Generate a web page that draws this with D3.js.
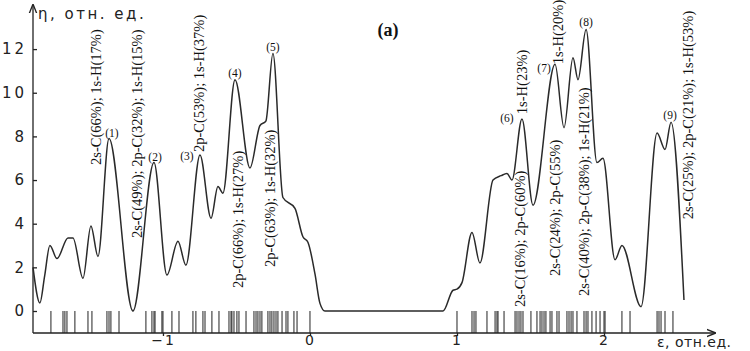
<!DOCTYPE html>
<html><head><meta charset="utf-8">
<script src="https://cdn.jsdelivr.net/npm/d3@7"></script>
<style>
html,body{margin:0;padding:0;background:#fff;}
svg{display:block;}
</style></head>
<body><svg id="chart" width="750" height="351"></svg>
<script>
// ---- data ----
const curveE   = [-1.884,-1.837,-1.805,-1.769,-1.721,-1.646,-1.612,-1.544,-1.490,-1.442,-1.367,-1.204,-1.061,-0.973,-0.898,-0.844,-0.748,-0.673,-0.626,-0.592,-0.510,-0.408,-0.340,-0.300,-0.252,-0.184,-0.102,-0.048,-0.014,0.034,0.068,0.102,0.905,0.973,1.000,1.034,1.102,1.156,1.245,1.300,1.340,1.374,1.442,1.517,1.667,1.728,1.789,1.823,1.878,1.952,1.993,2.075,2.122,2.252,2.361,2.415,2.456,2.544];
const curveEta = [2.0,0.37,1.6,3.0,2.4,3.35,3.35,1.5,3.9,2.5,7.9,0.0,6.8,1.65,3.2,2.1,7.15,4.25,5.7,5.4,10.6,6.55,8.5,8.7,11.8,5.2,4.7,3.4,3.15,1.7,0.35,0.0,0.0,0.95,1.0,1.3,3.6,2.2,6.0,6.2,6.3,6.0,8.8,4.85,11.3,8.4,11.6,10.6,12.9,6.8,7.0,2.35,3.0,0.2,8.15,7.4,8.65,0.5];

const stickE = [-1.762,-1.680,-1.667,-1.653,-1.599,-1.510,-1.483,-1.381,-1.367,-1.354,-1.299,-1.116,-1.075,-1.061,-1.054,-1.007,-0.939,-0.891,-0.796,-0.776,-0.728,-0.714,-0.667,-0.619,-0.551,-0.537,-0.531,-0.517,-0.497,-0.483,-0.435,-0.381,-0.367,-0.354,-0.340,-0.327,-0.286,-0.272,-0.259,-0.245,-0.231,-0.218,-0.190,-0.163,-0.150,-0.109,-0.088,
  1.102,1.116,1.129,1.204,1.259,1.272,1.279,1.320,1.395,1.408,1.422,1.435,1.449,1.503,1.544,1.565,1.578,1.592,1.605,1.633,1.646,1.680,1.694,1.748,1.762,1.776,1.789,1.816,1.864,1.878,1.891,1.918,1.946,1.973,2.007,2.122,2.177,2.361,2.374,2.388,2.415,2.469];

const xTicks = [-1,0,1,2];
const xTickLabels = ["\u22121","0","1","2"];
const yTicks = [0,2,4,6,8,10,12];

const orbText = ["2s-C(66%); 1s-H(17%)","2s-C(49%); 2p-C(32%); 1s-H(15%)","2p-C(53%); 1s-H(37%)","2p-C(66%); 1s-H(27%)","2p-C(63%); 1s-H(32%)","2s-C(16%); 2p-C(60%)","1s-H(23%)","2s-C(24%); 2p-C(55%)","1s-H(20%)","2s-C(40%); 2p-C(38%); 1s-H(21%)","2s-C(25%); 2p-C(21%); 1s-H(53%)"];
const orbE   = [-1.456,-1.177,-0.755,-0.490,-0.272,1.429,1.442,1.667,1.687,1.864,2.571];
const orbEta = [6.69,3.34,7.28,1.05,2.02,0.18,9.02,1.60,11.31,0.69,4.2];

const peakText = ["(1)","(2)","(3)","(4)","(5)","(6)","(7)","(8)","(9)"];
const peakE   = [-1.347,-1.054,-0.837,-0.510,-0.252,1.340,1.592,1.878,2.449];
const peakEta = [8.15,7.05,7.10,10.90,12.09,8.84,11.13,13.24,8.98];

const title = "(a)";
const yTitle = "\u03b7, отн. ед.";
const xTitle = "\u03b5, отн.ед.";

// ---- drawing ----
const svg = d3.select("#chart");
const x = d3.scaleLinear().domain([-1.884, 2.755]).range([33, 715]);
const y = d3.scaleLinear().domain([-1.008, 14.02]).range([333, 5]);
const ink = "#222";

const defs = svg.append("defs");
defs.append("marker").attr("id","arr").attr("viewBox","0 0 10 10").attr("refX",9).attr("refY",5)
  .attr("markerWidth",7).attr("markerHeight",7).attr("orient","auto")
  .append("path").attr("d","M0,1 L10,5 L0,9").attr("fill","none").attr("stroke",ink).attr("stroke-width",1.5);

svg.append("line").attr("x1",x.range()[0]).attr("x2",x.range()[1]).attr("y1",y(-1.008)).attr("y2",y(-1.008))
  .attr("stroke",ink).attr("stroke-width",1.3).attr("marker-end","url(#arr)");
svg.append("line").attr("x1",x(-1.884)).attr("x2",x(-1.884)).attr("y1",y.range()[0]).attr("y2",y.range()[1])
  .attr("stroke",ink).attr("stroke-width",1.3).attr("marker-end","url(#arr)");

// y axis
const yAxis = d3.axisLeft(y).tickValues(yTicks).tickSizeInner(-4).tickSizeOuter(0).tickPadding(6).tickFormat(d3.format("d"));
const gy = svg.append("g").attr("transform",`translate(${x(-1.884)},0)`).call(yAxis);
gy.select(".domain").remove();
gy.selectAll("line").attr("stroke",ink).attr("stroke-width",1.3);
gy.selectAll("text").attr("font-family","DejaVu Sans").attr("font-size",15).attr("fill",ink).attr("letter-spacing","3px");

// x axis
const xAxis = d3.axisBottom(x).tickValues(xTicks).tickSizeInner(3).tickSizeOuter(0).tickPadding(0)
  .tickFormat((d,i)=>xTickLabels[i]);
const gx = svg.append("g").attr("transform",`translate(0,${y(-1.008)})`).call(xAxis);
gx.select(".domain").remove();
gx.selectAll("line").attr("stroke",ink).attr("stroke-width",1.3);
gx.selectAll("text").attr("y",2).attr("font-family","DejaVu Sans").attr("font-size",14).attr("fill",ink).attr("letter-spacing","2px");
svg.append("g").selectAll("line").data(xTicks).join("line")
  .attr("x1",d=>x(d)).attr("x2",d=>x(d)).attr("y1",y(0)).attr("y2",y(-1.008))
  .attr("stroke",ink).attr("stroke-width",1);

// sticks (eigenvalue spectrum)
svg.append("g").selectAll("line").data(stickE).join("line")
  .attr("x1",d=>x(d)).attr("x2",d=>x(d)).attr("y1",y(0)).attr("y2",y(-1.008))
  .attr("stroke","#222").attr("stroke-width",1);

// curve
const pts = curveE.map((e,i)=>[e,curveEta[i]]);
svg.append("path").datum(pts)
  .attr("d", d3.line().x(d=>x(d[0])).y(d=>y(d[1])).curve(d3.curveMonotoneX))
  .attr("fill","none").attr("stroke","#2a2a2a").attr("stroke-width",1.5);

// orbital composition labels (vertical)
svg.append("g").selectAll("text").data(orbText).join("text")
  .attr("transform",(d,i)=>`translate(${x(orbE[i])},${y(orbEta[i])}) rotate(-90)`)
  .attr("dy","0.35em").attr("text-anchor","start")
  .attr("font-family","Liberation Serif").attr("font-size",14.5).attr("fill","#111")
  .text(d=>d);

// peak numbers
svg.append("g").selectAll("text").data(peakText).join("text")
  .attr("x",(d,i)=>x(peakE[i])).attr("y",(d,i)=>y(peakEta[i]))
  .attr("dy","0.35em").attr("text-anchor","middle")
  .attr("font-family","Liberation Serif").attr("font-size",11.5).attr("fill","#111")
  .text(d=>d);

// titles
svg.append("text").attr("x",388).attr("y",36).attr("text-anchor","middle")
  .attr("font-family","Liberation Serif").attr("font-weight","bold").attr("font-size",18).attr("fill","#111").text(title);
svg.append("text").attr("x",38).attr("y",19).attr("font-family","DejaVu Sans").attr("font-size",15)
  .attr("letter-spacing","2.5px").attr("fill",ink).text(yTitle);
svg.append("text").attr("x",657).attr("y",347).attr("font-family","DejaVu Sans").attr("font-size",14)
  .attr("letter-spacing","0.5px").attr("fill",ink).text(xTitle);
</script>
</body></html>
